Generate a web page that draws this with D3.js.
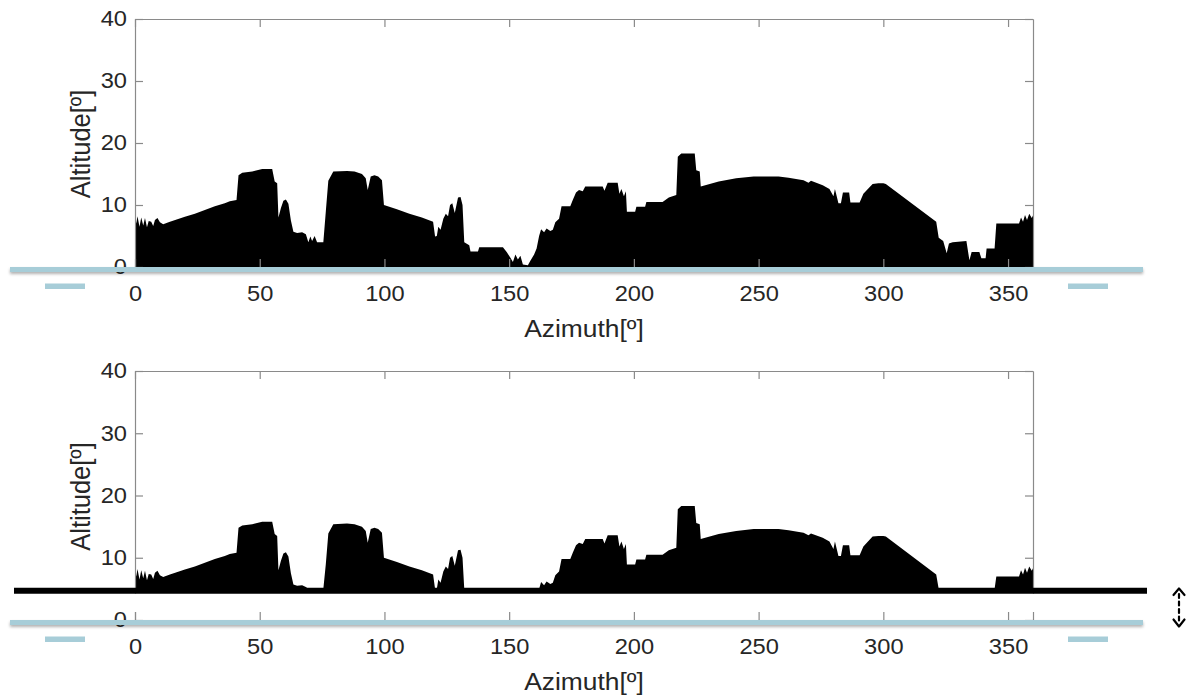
<!DOCTYPE html>
<html>
<head>
<meta charset="utf-8">
<script src="https://cdn.jsdelivr.net/npm/d3@7"></script>
<style>
  html, body { margin: 0; padding: 0; background: #fff; }
  svg { display: block; font-family: "Liberation Sans", Arial, sans-serif; }
</style>
</head>
<body>
<svg id="chart" width="1190" height="695"></svg>
<script>
// horizon profile (azimuth deg, altitude deg)
var azimuth = [
  0, 0.5, 1, 1.8, 2.5, 3.3, 4, 4.8, 5.5, 6.5, 7.3, 8, 9, 10, 11.3, 14, 17, 20, 24, 28,
  32, 36, 38, 40.7, 41.5, 43, 47, 51, 55, 56, 57, 57.5, 58.5, 59.5, 60.5, 61.5, 62.5, 63.5, 65, 67,
  68.5, 69.5, 70.3, 71, 72, 73, 75.5, 76.5, 77.5, 79.5, 85, 88, 91, 92.5, 93.3, 94.5, 96, 97.5, 99, 99.8,
  105, 110, 115, 119.5, 120.3, 121, 121.6, 122.5, 123.6, 124.6, 125.5, 126.3, 127.2, 128.2, 129.5, 130.5, 131.3, 132, 134, 134.5,
  137.5, 138, 147.5, 149, 150.5, 151.5, 152.5, 153.5, 154.5, 155.5, 157.5, 158.5, 160, 161, 162, 162.8, 164, 165, 166.5, 167.5,
  168.5, 170, 171, 174.5, 175.5, 176.8, 178, 179.5, 180.5, 187.5, 188.2, 189.5, 193.5, 194.2, 195, 196, 196.8, 197.2, 200.5, 201,
  204.5, 205, 211.5, 214, 217, 217.6, 219, 224.4, 225, 226.4, 226.8, 234, 241, 248, 258, 262, 268, 270, 271, 275.7,
  278.4, 280, 280.6, 282, 283, 283.8, 286.3, 286.8, 290.5, 292, 295.7, 298, 300, 301, 321.2, 322.2, 324, 325.4, 326.3, 327.8,
  333.3, 334.5, 335.4, 338.5, 339.3, 341, 341.4, 344.6, 345.3, 354.4, 355.2, 356, 356.8, 357.6, 358.5, 359.5, 360
];
var altitude = [
  8.4, 7.0, 8.2, 6.5, 8.0, 6.7, 7.9, 6.4, 7.4, 7.3, 6.6, 7.6, 7.9, 7.2, 6.9, 7.3, 7.7, 8.1, 8.6, 9.2,
  9.8, 10.3, 10.6, 10.8, 14.8, 15.2, 15.4, 15.8, 15.8, 13.8, 13.5, 8.0, 9.5, 10.7, 10.9, 10.2, 7.5, 5.7, 5.5, 5.6,
  5.3, 4.0, 4.9, 4.2, 5.0, 4.0, 4.0, 9.0, 13.9, 15.4, 15.5, 15.4, 15.0, 14.3, 12.4, 14.6, 14.8, 14.6, 14.0, 10.0,
  9.3, 8.6, 8.0, 7.3, 4.9, 5.0, 6.5, 6.0, 7.8, 8.6, 8.2, 10.0, 10.3, 8.7, 11.2, 11.3, 10.0, 4.0, 3.5, 2.5,
  2.5, 3.2, 3.2, 2.4, 1.5, 0.8, 2.0, 1.2, 1.8, 0.4, 0.3, 1.0, 2.0, 3.0, 5.0, 6.1, 5.6, 6.2, 5.8, 6.0,
  7.2, 7.8, 9.8, 9.8, 10.8, 12.0, 12.4, 12.2, 13.0, 13.0, 12.3, 13.6, 13.6, 11.8, 12.6, 11.4, 12.2, 8.9, 8.9, 9.7,
  9.7, 10.5, 10.5, 11.2, 11.6, 17.8, 18.3, 18.3, 15.6, 15.4, 13.0, 13.8, 14.3, 14.6, 14.6, 14.4, 14.0, 13.6, 13.9, 13.2,
  12.6, 11.4, 12.6, 10.3, 10.3, 12.0, 12.0, 10.4, 10.4, 11.8, 13.4, 13.5, 13.5, 13.4, 7.3, 4.7, 4.2, 2.2, 3.8, 4.0,
  4.2, 1.1, 2.4, 2.4, 1.4, 1.4, 3.0, 3.0, 7.0, 7.0, 8.0, 7.3, 8.4, 7.6, 8.6, 7.9, 8.3
];
var xTicks = [0, 50, 100, 150, 200, 250, 300, 350];
var yTicks = [0, 10, 20, 30, 40];
var horizonCut = 5;   // lower panel: terrain below this is dropped

var profile = azimuth.map(function(a, i) { return { az: a, alt: altitude[i] }; });

var svg = d3.select('#chart');
var textColor = '#262626';
var boxColor = '#8a8a8a';
var blue = '#a7cdd8';

var defs = svg.append('defs');
defs.append('filter').attr('id', 'shadow')
  .attr('x', '-5%').attr('y', '-100%').attr('width', '110%').attr('height', '300%')
  .append('feDropShadow')
  .attr('dx', 0).attr('dy', 2).attr('stdDeviation', 1.5)
  .attr('flood-color', '#000').attr('flood-opacity', 0.3);

var x = d3.scaleLinear().domain([0, 360]).range([135, 1033]);

var stretch = function(sel) {
  // the reference text is a bit wider than it is tall
  sel.each(function() {
    var t = d3.select(this);
    var tx = +t.attr('x') || 0;
    t.attr('x', tx / 1.1).attr('transform', 'scale(1.1,1)');
  });
};

var drawPanel = function(top, bottom, base) {
  var y = d3.scaleLinear().domain([0, 40]).range([bottom, top]);
  var g = svg.append('g');

  var area = d3.area()
    .x(function(d) { return x(d.az); })
    .y0(y(base))
    .y1(function(d) { return y(Math.max(d.alt, base)); });

  g.append('path').datum(profile)
    .attr('d', area)
    .attr('fill', '#000');

  var axes = [
    { gen: d3.axisBottom(x).tickValues(xTicks).tickSize(-8).tickSizeOuter(0).tickPadding(19),
      at: 'translate(0,' + bottom + ')' },
    { gen: d3.axisTop(x).tickValues(xTicks).tickSize(-8).tickSizeOuter(0).tickFormat(''),
      at: 'translate(0,' + top + ')' },
    { gen: d3.axisLeft(y).tickValues(yTicks).tickSize(-8).tickSizeOuter(0).tickPadding(8),
      at: 'translate(' + x(0) + ',0)' },
    { gen: d3.axisRight(y).tickValues(yTicks).tickSize(-8).tickSizeOuter(0).tickFormat(''),
      at: 'translate(' + x(360) + ',0)' }
  ];
  axes.forEach(function(a) {
    var ax = g.append('g').attr('transform', a.at).call(a.gen);
    ax.select('.domain').attr('stroke', boxColor).attr('stroke-width', 1.2);
    ax.selectAll('.tick line').attr('stroke', boxColor).attr('stroke-width', 1.2);
    ax.selectAll('.tick text')
      .attr('fill', textColor)
      .style('font-size', '21.5px')
      .style('font-family', '"Liberation Sans", Arial, sans-serif')
      .call(stretch);
  });

  g.append('text')
    .attr('transform', 'translate(80,' + ((top + bottom) / 2 + 1) + ') scale(1.1,1) rotate(-90)')
    .attr('text-anchor', 'middle')
    .attr('dy', '0.35em')
    .attr('fill', textColor)
    .style('font-size', '25.5px')
    .text('Altitude[º]');

  g.append('text')
    .attr('transform', 'translate(' + x(180) + ',' + (bottom + 62) + ') scale(1.1,1)')
    .attr('text-anchor', 'middle')
    .attr('dy', '0.35em')
    .attr('fill', textColor)
    .style('font-size', '24px')
    .text('Azimuth[º]');

  return { g: g, y: y };
};

var upper = drawPanel(19, 267, 0);
var lower = drawPanel(371, 620, horizonCut);

// lower panel: blank out everything under the cut line
var cutY = lower.y(horizonCut) + 1.8;
lower.g.append('rect')
  .attr('x', 60).attr('y', cutY + 3)
  .attr('width', 1000).attr('height', 612 - cutY - 3)
  .attr('fill', '#fff');
lower.g.append('line')
  .attr('x1', 14).attr('x2', 1147)
  .attr('y1', cutY).attr('y2', cutY)
  .attr('stroke', '#000').attr('stroke-width', 6);

// light blue ground lines and little markers
[upper, lower].forEach(function(p) {
  var y0 = p.y(0);
  p.g.append('rect')
    .attr('x', 10).attr('width', 1133)
    .attr('y', y0).attr('height', 5)
    .attr('fill', blue)
    .attr('filter', 'url(#shadow)');
  [[45, 85], [1068, 1108]].forEach(function(seg) {
    p.g.append('rect')
      .attr('x', seg[0]).attr('width', seg[1] - seg[0])
      .attr('y', y0 + 16.5).attr('height', 5.5)
      .attr('fill', blue);
  });
});

// double arrow on the right
var arrow = svg.append('g')
  .attr('fill', 'none').attr('stroke', '#000').attr('stroke-width', 2.2)
  .attr('stroke-linecap', 'round').attr('stroke-linejoin', 'round');
arrow.append('line')
  .attr('x1', 1179).attr('x2', 1179).attr('y1', 594).attr('y2', 621)
  .attr('stroke-dasharray', '4,3.5');
arrow.append('path').attr('d', 'M1173.5,595 L1179,588.5 L1184.5,595');
arrow.append('path').attr('d', 'M1173.5,619.5 L1179,626.5 L1184.5,619.5');
</script>
</body>
</html>
